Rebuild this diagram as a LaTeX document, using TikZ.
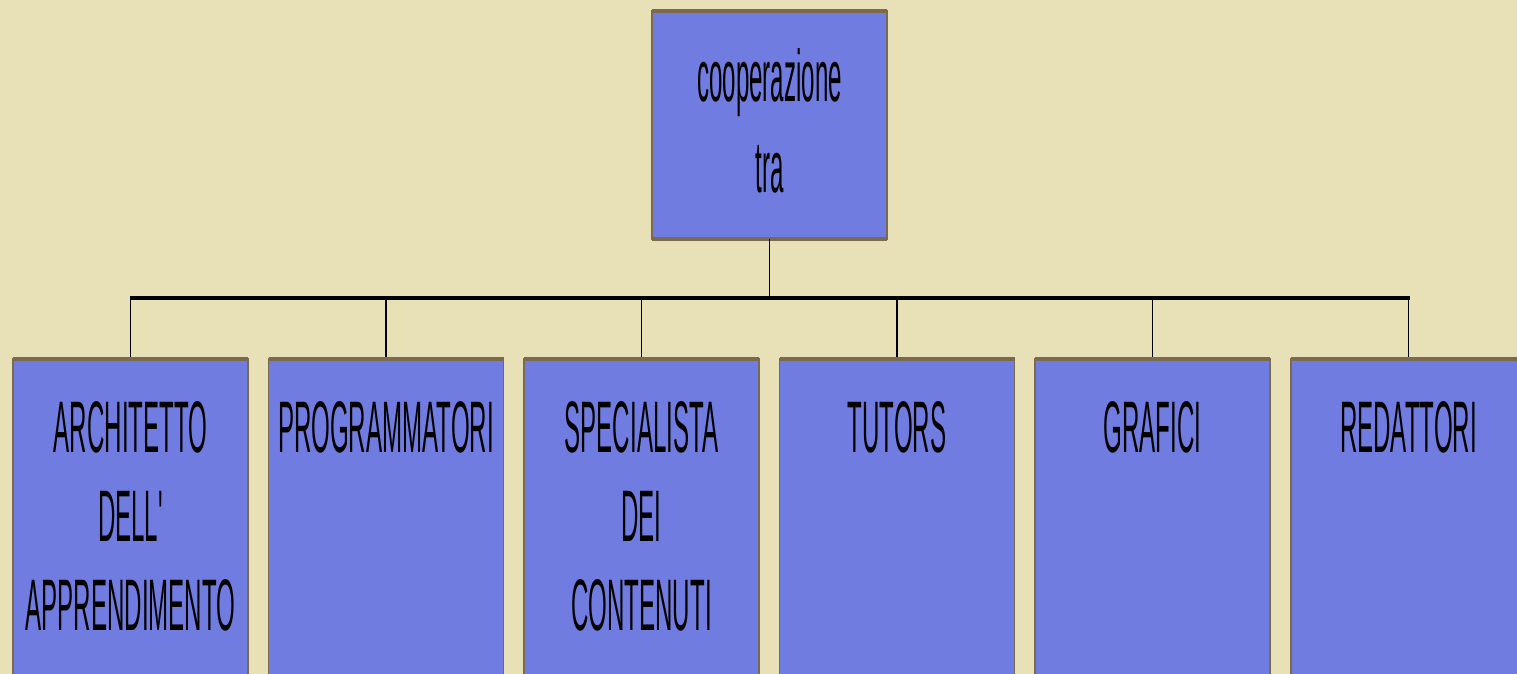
\documentclass[tikz,border=0pt]{standalone}
\usepackage{fontspec}
\setmainfont[Ligatures=NoCommon]{Liberation Sans}
\definecolor{bg}{RGB}{232,225,184}
\definecolor{boxfill}{RGB}{112,124,224}
\definecolor{boxedge}{RGB}{122,107,80}
\tikzset{
  box/.style={draw=boxedge, line width=1.5pt, fill=boxfill, minimum width=235pt, inner sep=0pt, outer sep=0pt},
  topedge/.style={draw=boxedge, line width=4pt},
  lbl/.style={inner sep=0pt, outer sep=0pt, anchor=base, text=black},
  conn/.style={draw=black, line width=1.4pt},
  bar/.style={draw=black, line width=3.2pt}
}
\newcommand{\lines}[2]{\scalebox{0.33}[1]{\fontsize{73}{#1}\selectfont\begin{tabular}[t]{@{}c@{}}#2\end{tabular}}}
\begin{document}
\begin{tikzpicture}[x=1pt,y=-1pt]
\useasboundingbox (0,0) rectangle (1517,674);
\clip (0,0) rectangle (1517,674);
\fill[bg] (0,0) rectangle (1517,674);
% top box
\node[box, minimum height=228pt] (top) at (769.5,125) {};
\draw[topedge] (top.north west) -- (top.north east);
\draw[topedge] (top.south west) -- (top.south east);
\node[lbl] (ttop) at (769.5,102) {\lines{91}{cooperazione\\tra}};
% bottom boxes
\foreach \i/\x in {1/130.5,2/386,3/641.5,4/897,5/1152.5,6/1408.5}{
  \node[box, minimum height=361pt] (b\i) at (\x,539.5) {};
  \draw[topedge] (b\i.north west) -- (b\i.north east);
}
\node[lbl] (t1) at (130.5,452) {\lines{89}{ARCHITETTO\\DELL\textquotesingle\\APPRENDIMENTO}};
\node[lbl] (t2) at (386,452) {\lines{89}{PROGRAMMATORI}};
\node[lbl] (t3) at (641.5,452) {\lines{89}{SPECIALISTA\\DEI\\CONTENUTI}};
\node[lbl] (t4) at (897,452) {\lines{89}{TUTORS}};
\node[lbl] (t5) at (1152.5,452) {\lines{89}{GRAFICI}};
\node[lbl] (t6) at (1408.5,452) {\lines{89}{REDATTORI}};
% connectors
\coordinate (barL) at (130.5,298);
\coordinate (barR) at (1408.5,298);
\coordinate (barM) at (769.5,298);
\draw[conn] (top.south) -- (barM);
\draw[bar] ([xshift=-1pt]barL) -- ([xshift=1pt]barR);
\foreach \i in {1,...,6}{
  \draw[conn] (b\i.north |- barL) -- ([yshift=2pt]b\i.north);
}
\end{tikzpicture}
\end{document}
